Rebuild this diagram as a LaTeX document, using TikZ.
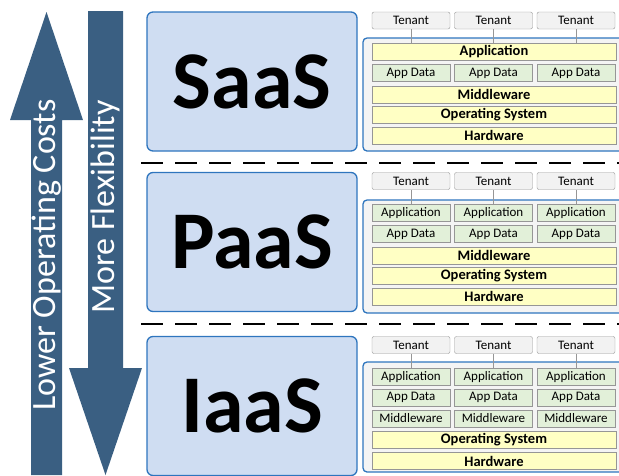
\documentclass[tikz,border=0pt]{standalone}
\usepackage{fontspec}
\setmainfont{Carlito}
\usepackage{xcolor}
\usetikzlibrary{positioning}
\definecolor{arrowblue}{RGB}{58,95,130}
\definecolor{tierfill}{RGB}{207,221,242}
\definecolor{tierline}{RGB}{46,117,190}
\definecolor{stackfill}{RGB}{244,244,244}
\definecolor{rowline}{RGB}{150,150,150}
\definecolor{rowyellow}{RGB}{255,255,196}
\definecolor{rowgreen}{RGB}{226,240,217}
\definecolor{tenantfill}{RGB}{242,242,242}

\begin{document}
\begin{tikzpicture}
    [   x = 1pt, y = -1pt
    ,   tier/.style=
        {   draw = tierline, fill = tierfill
        ,   line width = 1.3pt
        ,   rounded corners = 6pt
        ,   minimum width = 210pt, minimum height = 139pt
        ,   inner sep = 0pt
        ,   font = \fontsize{82}{82}\selectfont\bfseries
        }
    ,   stack/.style=
        {   draw = tierline, fill = stackfill
        ,   line width = 1.3pt
        ,   rounded corners = 4pt
        ,   minimum width = 262pt, minimum height = 113pt
        }
    ,   fullrow/.style=
        {   draw = rowline, fill = rowyellow
        ,   minimum width = 244pt, minimum height = 17pt
        ,   inner sep = 0pt
        ,   font = \fontsize{14.5}{15}\selectfont\bfseries
        }
    ,   cellbox/.style=
        {   draw = rowline, fill = rowgreen
        ,   minimum width = 78pt, minimum height = 17pt
        ,   inner sep = 0pt
        ,   font = \fontsize{13}{14}\selectfont
        }
    ,   tenantbox/.style=
        {   cellbox, fill = tenantfill
        ,   rounded corners = 2pt
        }
    ,   link/.style = {draw = rowline, line width = 0.6pt}
    ,   divider/.style = {line width = 2.6pt, dash pattern = on 22pt off 12pt}
    ,   arrowtext/.style=
        {   rotate = 90, text = white
        ,   font = \fontsize{34}{34}\selectfont
        }
    ]
    \useasboundingbox (0,0) rectangle (619,475);

    % the two big arrows
    \fill[arrowblue] (31,475) -- (31,120) -- (10,120) -- (46.5,12)
        -- (83,120) -- (62,120) -- (62,475) -- cycle;
    \fill[arrowblue] (88,11) -- (123,11) -- (123,368) -- (142,368)
        -- (105.5,475) -- (69,368) -- (88,368) -- cycle;
    \node[arrowtext] (costs) at (46.5,255) {Lower Operating Costs};
    \node[arrowtext] (flex) at (105.5,207) {More Flexibility};

    % dividers
    \draw[divider] (141,163) -- (619,163);
    \draw[divider] (141,324) -- (619,324);

    % SaaS
    \node[tier] (saas) at (252,81.5) {SaaS};
    \node[stack] (saas-stack) at (494,94.5) {};
    \node[fullrow] (saas-app) at (494,51.5) {Application};
    \node[fullrow] (saas-mw) at (494,94.5) {Middleware};
    \node[fullrow] (saas-os) at (494,115) {Operating System};
    \node[fullrow] (saas-hw) at (494,135.5) {Hardware};
    \foreach \c/\x in {1/411,2/493.5,3/576}
    {
        \node[tenantbox] (saas-t\c) at (\x,20.5) {Tenant};
        \node[cellbox] (saas-d\c) at (\x,73) {App Data};
        \draw[link] (saas-t\c) -- (saas-t\c |- saas-app.north);
    }

    % PaaS
    \node[tier] (paas) at (252,242) {PaaS};
    \node[stack] (paas-stack) at (494,256.5) {};
    \node[fullrow] (paas-mw) at (494,255.5) {Middleware};
    \node[fullrow] (paas-os) at (494,276) {Operating System};
    \node[fullrow] (paas-hw) at (494,296.5) {Hardware};
    \foreach \c/\x in {1/411,2/493.5,3/576}
    {
        \node[tenantbox] (paas-t\c) at (\x,181) {Tenant};
        \node[cellbox] (paas-a\c) at (\x,213) {Application};
        \node[cellbox] (paas-d\c) at (\x,234) {App Data};
        \draw[link] (paas-t\c) -- (paas-a\c);
    }

    % IaaS
    \node[tier] (iaas) at (252,406) {IaaS};
    \node[stack, minimum height = 110pt] (iaas-stack) at (494,417) {};
    \node[fullrow] (iaas-os) at (494,440) {Operating System};
    \node[fullrow] (iaas-hw) at (494,461) {Hardware};
    \foreach \c/\x in {1/411,2/493.5,3/576}
    {
        \node[tenantbox] (iaas-t\c) at (\x,345) {Tenant};
        \node[cellbox] (iaas-a\c) at (\x,377) {Application};
        \node[cellbox] (iaas-d\c) at (\x,397.5) {App Data};
        \node[cellbox] (iaas-m\c) at (\x,418.5) {Middleware};
        \draw[link] (iaas-t\c) -- (iaas-a\c);
    }
\end{tikzpicture}
\end{document}
